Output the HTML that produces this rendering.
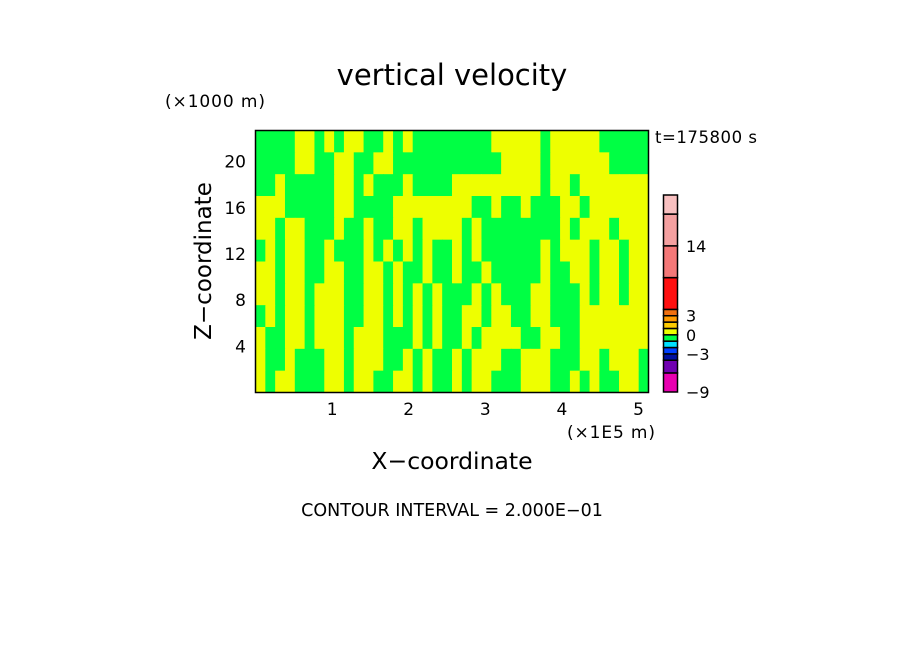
<!DOCTYPE html>
<html><head><meta charset="utf-8"><style>
body{margin:0;background:#fff}
svg{display:block;font-family:"DejaVu Sans","Liberation Sans",sans-serif}
</style></head><body>
<svg id="chart" width="904" height="654" viewBox="0 0 904 654">
<text x="452" y="85" font-size="29" text-anchor="middle">vertical velocity</text>
<text x="165" y="107" font-size="17" textLength="100">(×1000 m)</text>
<text x="655" y="143" font-size="16.5" textLength="102">t=175800 s</text>
<g id="field"></g>
<rect x="255.5" y="130.5" width="393" height="262" fill="none" stroke="#000" stroke-width="1.5"/>
<g id="yticks"></g>
<g id="xticks"></g>
<text x="567" y="438" font-size="17" textLength="88">(×1E5 m)</text>
<text x="452" y="469" font-size="23.5" text-anchor="middle">X−coordinate</text>
<text transform="translate(211,261) rotate(-90)" font-size="23" text-anchor="middle">Z−coordinate</text>
<text x="452" y="516" font-size="17.5" text-anchor="middle">CONTOUR INTERVAL = 2.000E−01</text>
<g id="cbar"></g>
</svg>
<script>
const rows = [
"GGGGYYGYGYYGGYGYGGGGGGGGYYYYYGYYYYYGGGGG",
"GGGGYYGGYYGGYYGGGGGGGGGGGYYYYGYYYYYYGGGG",
"GGYGGGGGYYGYGGGYGGGGYYYYYYYYYGYYGYYYYYYY",
"YYYGGGGGYYGGGGYYYYYYYYGGYGGYGGGYYGYYYYYY",
"YYGYYGGGYGGYGGYYGYYYYGYGGGGGGGGYGYYYGYYY",
"GYGYYGGYGGGYGYGYGYGGYGYGGGGGGYGYYYGYYGYY",
"YYGYYGGYYGGYYGYGGYGGYGGYGGGGGYGGYYGYYGYY",
"YYGYYGYYYGGYYGYGYGYGGGYGYGGGYYGGGYGYYGYY",
"GYGYYGYYYGGYYGYGYGYGGYYGYYGGYYGGGYYYYYYY",
"YGGYYGYYYGYYYGGGYGYGGYGYYYYGGYYGGYYYYYYY",
"YGGYGGGYYGYYYGGYGYGGYGYYYGGYYYGGGYYGYYYG",
"YGYYGGGYYGYYGGYYGYGGYGYYGGGYYYGGYGYGGYYG"];
const yTicks=[4,8,12,16,20];
const xTicks=[1,2,3,4,5];
const cbLevels=[-9,-6,-4,-3,-2,-1,0,1,2,3,4,9,14,19,22];
const cbColors=["#e800b0","#7000b0","#0010a0","#0040ff","#00e0ff","#00ff44","#eeff00","#ffcc00","#ff9a00","#f07010","#ff1010","#f47878","#f4a0a0","#f8c0c0"];
const cbLabels=[-9,-3,0,3,14];
const NS="http://www.w3.org/2000/svg";
const X0=255.5,X1=648.5,Y0=392.5,Y1=130.5,xmax=5.13,zmax=22.7;
const xs=v=>X0+(v/xmax)*(X1-X0), ys=v=>Y0-(v/zmax)*(Y0-Y1);
function mk(t,a,p){const e=document.createElementNS(NS,t);for(const k in a)e.setAttribute(k,a[k]);p.appendChild(e);return e;}
const field=document.getElementById('field');
const nr=rows.length,nc=rows[0].length;
rows.forEach((r,i)=>{for(let j=0;j<nc;j++){
  const x=xs(j*xmax/nc),x2=xs((j+1)*xmax/nc),y=ys(zmax-i*zmax/nr),y2=ys(zmax-(i+1)*zmax/nr);
  const e=mk('rect',{x:x,y:y,width:x2-x+0.5,height:y2-y+0.5,fill:r[j]=='G'?'#00ff44':'#eeff00'},field);
  
  
}});
const yt=document.getElementById('yticks');
yTicks.forEach(v=>{const t=mk('text',{x:246,y:ys(v)+6,'font-size':17,'text-anchor':'end'},yt);t.textContent=v;

});
const xt=document.getElementById('xticks');
xTicks.forEach(v=>{const t=mk('text',{x:xs(v),y:415,'font-size':17,'text-anchor':'middle'},xt);t.textContent=v;

});
const cb=document.getElementById('cbar');
const CB0=392,CB1=195,lmin=cbLevels[0],lmax=cbLevels[cbLevels.length-1];
const cs=v=>CB0-(v-lmin)/(lmax-lmin)*(CB0-CB1);
cbColors.forEach((c,i)=>{const e=mk('rect',{x:663.5,y:cs(cbLevels[i+1]),width:14,height:cs(cbLevels[i])-cs(cbLevels[i+1]),fill:c,stroke:'#000','stroke-width':1.5},cb);

});
cbLabels.forEach(v=>{const t=mk('text',{x:686,y:cs(v)+6,'font-size':16},cb);t.textContent=v<0?'−'+(-v):v;

});
</script>
</body></html>
